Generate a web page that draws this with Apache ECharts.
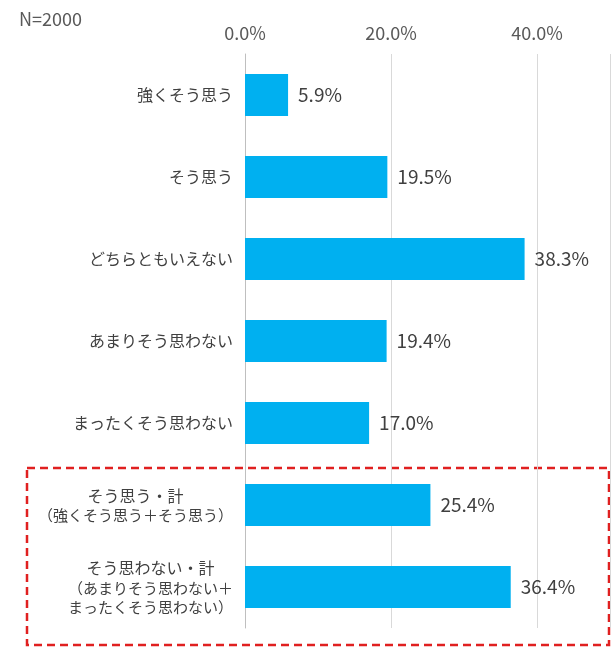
<!DOCTYPE html>
<html><head><meta charset="utf-8">
<script src="https://cdn.jsdelivr.net/npm/echarts@6/dist/echarts.min.js"></script>
<style>html,body{margin:0;padding:0;background:#fff}#c{width:613px;height:648px}</style>
</head><body><div id="c"></div>
<script>
const categories = ['強くそう思う','そう思う','どちらともいえない','あまりそう思わない','まったくそう思わない','そう思う・計','そう思わない・計'];
const subLabels = ['','','','','','（強くそう思う＋そう思う）','（あまりそう思わない＋\nまったくそう思わない）'];
const values = [5.9,19.5,38.3,19.4,17.0,25.4,36.4];
const ticks = [0,20,40];
const chart = echarts.init(document.getElementById('c'));
const F = '"Noto Sans CJK JP","Noto Sans",sans-serif';
chart.setOption({
  animation:false,
  textStyle:{fontFamily:F},
  title:{text:'N=2000',left:14,top:5,textStyle:{fontSize:18,fontWeight:'normal',color:'#595959',fontFamily:F}},
  grid:{left:245,right:-8,top:54,bottom:20,containLabel:false},
  xAxis:{type:'value',position:'top',min:0,max:50,interval:20,
    axisLine:{show:false},axisTick:{show:false},
    axisLabel:{fontSize:18,color:'#595959',margin:12,formatter:v=>ticks.includes(v)?v.toFixed(1)+'%':''},
    splitLine:{lineStyle:{color:'#d9d9d9',width:1}}},
  yAxis:{type:'category',inverse:true,data:categories,
    axisLine:{lineStyle:{color:'#bfbfbf'}},axisTick:{show:false},
    axisLabel:{margin:12,color:'#404040',fontSize:16,
      formatter:(v,i)=>{const s=subLabels[categories.indexOf(v)];return s?'{m|'+v+'}\n'+s.split('\n').map(l=>'{s|'+l+'}').join('\n'):'{m|'+v+'}';},
      rich:{m:{fontSize:16,color:'#404040',align:'center',lineHeight:21},s:{fontSize:15,color:'#404040',align:'center',lineHeight:19}}}},
  series:[{type:'bar',data:values,barWidth:42,itemStyle:{color:'#00B0F0'},
    label:{show:true,position:'right',distance:10,fontSize:19,color:'#404040',formatter:p=>p.value.toFixed(1)+'%'}}],
  graphic:[{type:'rect',shape:{x:27,y:468,width:582,height:177},
    style:{fill:'none',stroke:'#e02020',lineWidth:2.5,lineDash:[8,5]}}]
});
</script></body></html>
